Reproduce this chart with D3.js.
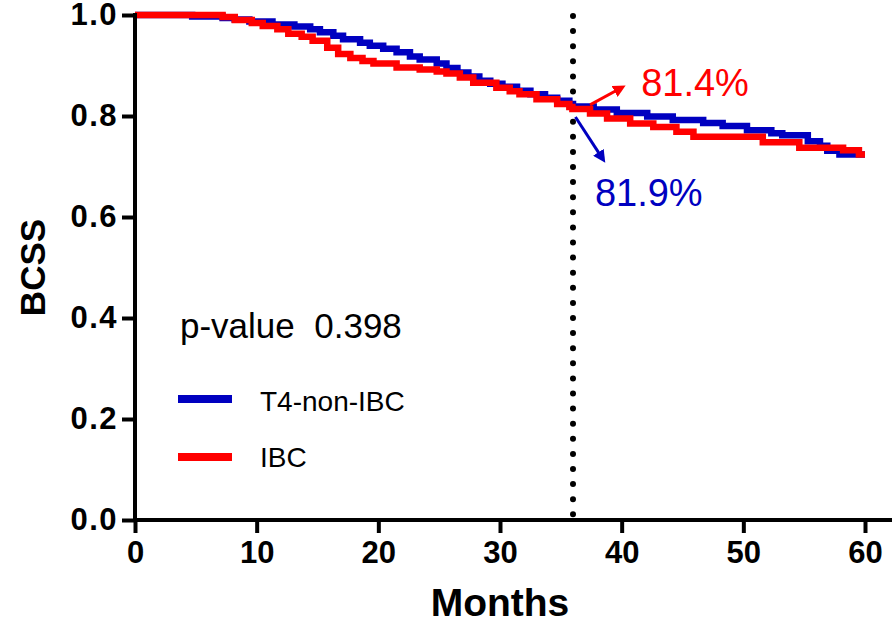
<!DOCTYPE html>
<html>
<head>
<meta charset="utf-8">
<script src="https://cdn.jsdelivr.net/npm/d3@7"></script>
<style>
  html, body { margin: 0; padding: 0; background: #fff; }
  svg { display: block; }
</style>
</head>
<body>
<script>
// ---- data ----
const xTicks = [0, 10, 20, 30, 40, 50, 60];
const yTicks = [0, 0.2, 0.4, 0.6, 0.8, 1.0];
const seriesNames = ["T4-non-IBC", "IBC"];

const blueTimes = [0, 4.7, 7.2, 8.2, 9.4, 11.3, 13.1, 14.4, 15.2, 16.3, 17.1, 18.5, 19.3, 20.4, 21.5, 22.6, 23.4, 24.8, 25.6, 26.5, 27.4, 28.3, 29.2, 30.2, 31.4, 32.5, 33.7, 34.7, 35.7, 36.0, 37.7, 39.6, 42.1, 44.2, 46.7, 48.3, 50.3, 52.3, 53.2, 55.3, 56.3, 56.9, 57.9, 60];
const blueSurv  = [1.0, 0.997, 0.994, 0.991, 0.987, 0.981, 0.977, 0.972, 0.966, 0.959, 0.952, 0.945, 0.939, 0.933, 0.926, 0.918, 0.912, 0.904, 0.895, 0.886, 0.878, 0.870, 0.864, 0.858, 0.850, 0.843, 0.836, 0.830, 0.824, 0.819, 0.813, 0.806, 0.799, 0.792, 0.786, 0.780, 0.772, 0.766, 0.762, 0.750, 0.741, 0.731, 0.724, 0.724];

const redTimes = [0, 7.2, 8.2, 9.6, 10.5, 11.7, 12.6, 13.7, 14.6, 15.8, 16.7, 17.7, 18.7, 19.6, 21.5, 23.4, 24.8, 25.6, 26.7, 27.8, 29.7, 30.8, 31.6, 33.0, 34.7, 35.7, 35.95, 37.4, 38.8, 40.7, 42.6, 44.5, 45.9, 51.6, 54.6, 58.2, 59.5, 60];
const redSurv  = [1.0, 0.996, 0.990, 0.984, 0.978, 0.972, 0.963, 0.957, 0.949, 0.935, 0.923, 0.915, 0.909, 0.904, 0.896, 0.892, 0.888, 0.884, 0.876, 0.866, 0.856, 0.849, 0.843, 0.833, 0.824, 0.818, 0.814, 0.805, 0.795, 0.785, 0.778, 0.769, 0.759, 0.748, 0.737, 0.732, 0.724, 0.724];

const landmarkMonth = 36;
const pValueText = "p-value  0.398";
const blueLabel = "81.9%";
const redLabel = "81.4%";

// ---- layout ----
const W = 894, H = 641;
const BLUE = "#0000c0", RED = "#ff0000";
const FONT = "'Liberation Sans', Arial, Helvetica, sans-serif";

const svg = d3.select("body").append("svg").attr("width", W).attr("height", H)
  .style("background", "#fff");

const x = d3.scaleLinear().domain([0, 60]).range([135, 865]);
const y = d3.scaleLinear().domain([0, 1]).range([520, 15]);

// defs: arrow markers
const defs = svg.append("defs");
[["arrowRed", RED], ["arrowBlue", BLUE]].forEach(([id, c]) => {
  defs.append("marker").attr("id", id)
    .attr("viewBox", "0 0 10 10").attr("refX", 2).attr("refY", 5)
    .attr("markerWidth", 4.2).attr("markerHeight", 4.2)
    .attr("orient", "auto")
    .append("path").attr("d", "M0,0 L10,5 L0,10 z").attr("fill", c);
});

// landmark dotted line
svg.append("line")
  .attr("x1", x(landmarkMonth)).attr("x2", x(landmarkMonth))
  .attr("y1", y(1) + 1).attr("y2", y(0))
  .attr("stroke", "#000").attr("stroke-width", 6)
  .attr("stroke-linecap", "round")
  .attr("stroke-dasharray", "0 15.1");

// curves
const line = d3.line().x(d => x(d[0])).y(d => y(d[1])).curve(d3.curveStepAfter);
const blueData = blueTimes.map((t, i) => [t, blueSurv[i]]);
const redData = redTimes.map((t, i) => [t, redSurv[i]]);

svg.append("path").datum(blueData).attr("d", line)
  .attr("fill", "none").attr("stroke", BLUE).attr("stroke-width", 6.5);
svg.append("path").datum(redData).attr("d", line)
  .attr("fill", "none").attr("stroke", RED).attr("stroke-width", 6.5);

// axes
const yAxis = d3.axisLeft(y).tickValues(yTicks).tickFormat(d3.format(".1f"))
  .tickSize(13).tickSizeOuter(0).tickPadding(4);
const gy = svg.append("g").attr("transform", `translate(${x(0)},0)`).call(yAxis);
gy.select(".domain").remove();
gy.selectAll(".tick line").attr("stroke", "#000").attr("stroke-width", 4);
gy.selectAll(".tick text").attr("font-family", FONT).attr("font-weight", "bold")
  .attr("font-size", 31).attr("letter-spacing", 1.5).attr("fill", "#000");

const xAxis = d3.axisBottom(x).tickValues(xTicks).tickFormat(d3.format("d"))
  .tickSize(13).tickSizeOuter(0).tickPadding(8);
const gx = svg.append("g").attr("transform", `translate(0,${y(0)})`).call(xAxis);
gx.select(".domain").remove();
gx.selectAll(".tick line").attr("stroke", "#000").attr("stroke-width", 4);
gx.selectAll(".tick text").attr("font-family", FONT).attr("font-weight", "bold")
  .attr("font-size", 31).attr("fill", "#000");

// axis lines
svg.append("line").attr("x1", x(0)).attr("x2", x(0)).attr("y1", y(1) - 2).attr("y2", y(0) + 2)
  .attr("stroke", "#000").attr("stroke-width", 4);
svg.append("line").attr("x1", x(0) - 2).attr("x2", 892).attr("y1", y(0)).attr("y2", y(0))
  .attr("stroke", "#000").attr("stroke-width", 4);

// axis titles
svg.append("text").attr("x", (x(0) + x(60)) / 2).attr("y", 616)
  .attr("text-anchor", "middle").attr("font-family", FONT).attr("font-weight", "bold")
  .attr("font-size", 39).text("Months");
svg.append("text").attr("transform", `translate(45,${(y(0) + y(1)) / 2}) rotate(-90)`)
  .attr("text-anchor", "middle").attr("font-family", FONT).attr("font-weight", "bold")
  .attr("font-size", 35).text("BCSS");

// annotations: arrows and percentages
svg.append("line")
  .attr("x1", x(37.4)).attr("y1", y(0.822)).attr("x2", x(39.6)).attr("y2", y(0.851))
  .attr("stroke", RED).attr("stroke-width", 3).attr("marker-end", "url(#arrowRed)");
svg.append("line")
  .attr("x1", x(36.2)).attr("y1", y(0.798)).attr("x2", x(38.2)).attr("y2", y(0.724))
  .attr("stroke", BLUE).attr("stroke-width", 3).attr("marker-end", "url(#arrowBlue)");

svg.append("text").attr("x", x(41.6)).attr("y", y(0.84))
  .attr("font-family", FONT).attr("font-size", 38).attr("fill", RED).text(redLabel);
svg.append("text").attr("x", x(37.8)).attr("y", y(0.622))
  .attr("font-family", FONT).attr("font-size", 38).attr("fill", BLUE).text(blueLabel);

// p-value
svg.append("text").attr("x", 180).attr("y", 338)
  .attr("font-family", FONT).attr("font-size", 35).attr("fill", "#000")
  .attr("xml:space", "preserve").style("white-space", "pre").text(pValueText);

// legend
const legend = svg.append("g");
[[seriesNames[0], BLUE, 399, 411], [seriesNames[1], RED, 457, 467]].forEach(([name, c, ly, ty]) => {
  legend.append("line").attr("x1", 178).attr("x2", 232).attr("y1", ly).attr("y2", ly)
    .attr("stroke", c).attr("stroke-width", 8);
  legend.append("text").attr("x", 260).attr("y", ty)
    .attr("font-family", FONT).attr("font-size", 28).attr("fill", "#000").text(name);
});
</script>
</body>
</html>
